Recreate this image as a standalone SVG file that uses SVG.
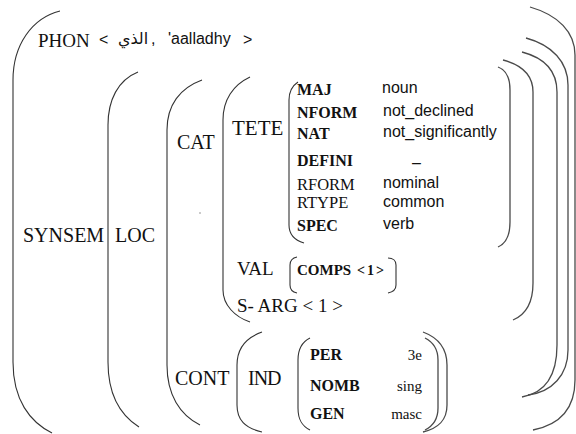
<svg xmlns="http://www.w3.org/2000/svg" width="576" height="434" viewBox="0 0 576 434">
  <style>
    .br{fill:none;stroke:#333;stroke-width:1.1}
    .rb{fill:none;stroke:#4a4a4a;stroke-width:1.3}
    .tl{font-family:"Liberation Serif","Times New Roman",serif;fill:#111}
    .ft{font-family:"Liberation Serif","Times New Roman",serif;font-size:16px;font-weight:bold;fill:#111}
    .fr{font-family:"Liberation Serif","Times New Roman",serif;font-size:16.5px;fill:#111}
    .val{font-family:"Liberation Sans",Arial,sans-serif;font-size:16px;fill:#111}
    .sv{font-family:"Liberation Serif","Times New Roman",serif;font-size:15px;fill:#111}
    .ar{font-family:"DejaVu Sans","Noto Sans",sans-serif;font-size:15px;fill:#111}
  </style>

  <!-- opening brackets -->
  <g id="open-brackets">
    <path class="br" d="M60,11 C32,18 13,45 13,80 L13,362 C13,400 30,422 52,433"/>
    <path class="br" d="M138,72 C118,80 108,100 108,125 L108,362 C108,395 120,415 139,427"/>
    <path class="br" d="M202,80 C180,88 167,105 167,130 L167,365 C167,395 180,415 200,425"/>
    <path class="br" d="M250,77 C233,85 223,100 223,120 L223,290 C223,305 235,317 250,322"/>
    <path class="br" d="M298,82 C292,86 289,92 289,100 L289,225 C289,234 294,240 304,243"/>
    <path class="br" d="M297,257 C292,258 290,261 290,265 L290,285 C290,289 292,292 297,293"/>
    <path class="br" d="M262,332 C245,338 237,350 237,365 L237,405 C237,420 245,428 262,432"/>
    <path class="br" d="M310,338 C302,342 298,350 298,360 L298,408 C298,420 302,426 310,430"/>
  </g>

  <!-- closing brackets -->
  <g id="close-brackets">
    <path class="rb" d="M498,67 C506,70 510,78 510,90 L510,222 C510,236 505,244 498,247"/>
    <path class="rb" d="M503,60 C522,65 533,75 533,92 L533,283 C533,303 525,315 513,320"/>
    <path class="rb" d="M522,52 C545,58 557,72 557,92 L557,345 C557,375 545,393 522,397"/>
    <path class="rb" d="M526,38 C552,45 568,62 568,85 L568,350 C568,375 552,392 528,395"/>
    <path class="rb" d="M530,7 C558,15 575,32 575,55 L575,380 C575,410 558,425 533,430"/>
    <path class="br" d="M388,258 C393,258 396,261 396,265 L396,285 C396,289 393,292 388,293"/>
    <path class="rb" d="M425,338 C433,342 438,350 438,360 L438,408 C438,420 433,426 425,430"/>
    <path class="rb" d="M423,332 C439,338 447,350 447,365 L447,405 C447,420 439,428 423,432"/>
  </g>

  <!-- PHON line -->
  <g id="phon">
    <text class="tl" x="38" y="47" style="font-family:'Liberation Serif',serif;font-size:19px">PHON</text>
    <text class="val" x="99" y="45">&lt;</text>
    <text class="ar" x="133" y="44" text-anchor="middle" style="font-size:16px">الذي</text>
    <text class="val" x="151" y="44">,</text>
    <text class="val" x="168" y="44">'aalladhy</text>
    <text class="val" x="243" y="45">&gt;</text>
  </g>

  <g id="synsem"><text class="tl" x="23" y="242" style="font-family:'Liberation Serif',serif;font-size:20px">SYNSEM</text></g>
  <g id="loc"><text class="tl" x="115" y="242" style="font-family:'Liberation Serif',serif;font-size:20px">LOC</text></g>
  <g id="cat"><text class="tl" x="177" y="149" style="font-family:'Liberation Serif',serif;font-size:20px">CAT</text></g>
  <circle cx="200" cy="213" r="0.8" fill="#888"/>

  <g id="tete">
    <text class="tl" x="232" y="135" style="font-family:'Liberation Serif',serif;font-size:21px">TETE</text>
    <text class="ft" x="297" y="95">MAJ</text>
    <text class="ft" x="297" y="118">NFORM</text>
    <text class="ft" x="297" y="139">NAT</text>
    <text class="ft" x="297" y="166">DEFINI</text>
    <text class="fr" x="297" y="190">RFORM</text>
    <text class="fr" x="297" y="208">RTYPE</text>
    <text class="ft" x="297" y="231">SPEC</text>
    <text class="val" x="382" y="93">noun</text>
    <text class="val" x="383" y="116">not_declined</text>
    <text class="val" x="383" y="137">not_significantly</text>
    <text class="val" x="412" y="168">–</text>
    <text class="val" x="383" y="188">nominal</text>
    <text class="val" x="383" y="207">common</text>
    <text class="val" x="383" y="229">verb</text>
  </g>

  <g id="val">
    <text class="tl" x="237" y="275" style="font-family:'Liberation Serif',serif;font-size:19px">VAL</text>
    <text class="ft" x="297" y="275" style="font-size:15px">COMPS</text>
    <text class="ft" x="357" y="275" style="font-size:14px" letter-spacing="2">&lt;1&gt;</text>
  </g>

  <g id="s-arg"><text class="tl" x="237" y="312" style="font-family:'Liberation Serif',serif;font-size:19px">S- ARG &lt; 1 &gt;</text></g>

  <g id="cont">
    <text class="tl" x="175" y="385" style="font-family:'Liberation Serif',serif;font-size:20px">CONT</text>
    <text class="tl" x="248" y="385" style="font-family:'Liberation Serif',serif;font-size:20px" letter-spacing="-1">IND</text>
    <text class="ft" x="310" y="360">PER</text>
    <text class="ft" x="310" y="391">NOMB</text>
    <text class="ft" x="310" y="419">GEN</text>
    <text class="sv" x="422" y="360" text-anchor="end">3e</text>
    <text class="sv" x="422" y="391" text-anchor="end">sing</text>
    <text class="sv" x="422" y="419" text-anchor="end">masc</text>
  </g>
</svg>
